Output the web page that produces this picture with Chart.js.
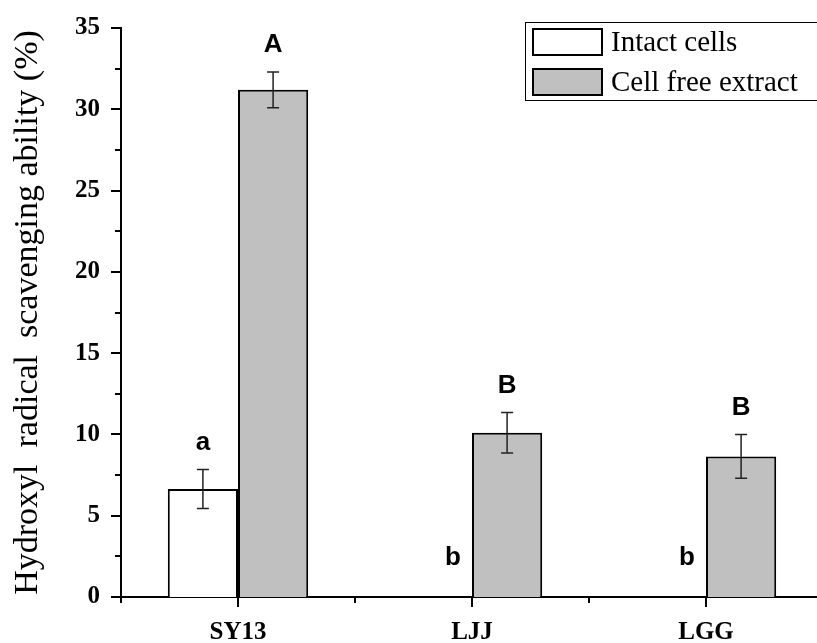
<!DOCTYPE html>
<html>
<head>
<meta charset="utf-8">
<script src="https://cdn.jsdelivr.net/npm/chart.js@4.4.0/dist/chart.umd.min.js"></script>
<style>
  html, body { margin: 0; padding: 0; background: #fff; overflow: hidden; }
  #wrap { width: 824px; height: 643px; }
</style>
</head>
<body>
<div id="wrap"><canvas id="myChart" width="824" height="643"></canvas></div>
<script>
// data
var strains = ['SY13', 'LJJ', 'LGG']
var intactCells = [6.65, 0, 0]
var intactErr = [1.2, 0, 0]
var intactLetters = ['a', 'b', 'b']
var cellFree = [31.2, 10.1, 8.65]
var cellFreeErr = [1.1, 1.25, 1.35]
var cellFreeLetters = ['A', 'B', 'B']
var yTicks = [0, 5, 10, 15, 20, 25, 30, 35]

const ctx = document.getElementById('myChart');
const serif = '"Liberation Serif", "Times New Roman", serif'

// error bars + letters on top of each bar
var errorBars = {
  id: 'errorBars',
  afterDatasetsDraw(chart) {
    let c = chart.ctx
    let y = chart.scales.y
    chart.data.datasets.forEach((ds, di) => {
      let meta = chart.getDatasetMeta(di)
      meta.data.forEach((bar, i) => {
        let v = ds.data[i], e = ds.errors[i]
        c.save()
        if (e > 0) {
          let top = y.getPixelForValue(v + e), bot = y.getPixelForValue(v - e)
          c.strokeStyle = '#222'
          c.lineWidth = 1.5
          c.beginPath()
          c.moveTo(bar.x, top); c.lineTo(bar.x, bot)
          c.moveTo(bar.x - 6, top); c.lineTo(bar.x + 6, top)
          c.moveTo(bar.x - 6, bot); c.lineTo(bar.x + 6, bot)
          c.stroke()
        }
        let ly = Math.min(y.getPixelForValue(v + e) - 27, y.getPixelForValue(0) - 39)
        let lx = v > 0 ? bar.x : bar.x + 16
        c.fillStyle = '#000'
        c.font = 'bold 26px "Liberation Sans", Arial, sans-serif'
        c.textAlign = 'center'
        c.textBaseline = 'middle'
        c.fillText(ds.letters[i], lx, ly)
        c.restore()
      })
    })
  }
}

// tick marks (major + minor), outward
var tickMarks = {
  id: 'tickMarks',
  afterDraw(chart) {
    let c = chart.ctx
    let x = chart.scales.x, y = chart.scales.y
    let a = chart.chartArea
    c.save()
    c.strokeStyle = '#000'
    c.lineWidth = 2
    c.beginPath()
    yTicks.forEach(t => {
      let p = Math.round(y.getPixelForValue(t))
      c.moveTo(a.left, p); c.lineTo(a.left - 10, p)
      if (t < 35) {
        let m = Math.round(y.getPixelForValue(t + 2.5))
        c.moveTo(a.left, m); c.lineTo(a.left - 6, m)
      }
    })
    let step = x.getPixelForValue(1) - x.getPixelForValue(0)
    strains.forEach((s, i) => {
      let p = Math.round(x.getPixelForValue(i))
      c.moveTo(p, a.bottom); c.lineTo(p, a.bottom + 10)
      let m = Math.round(p - step / 2)
      c.moveTo(m, a.bottom); c.lineTo(m, a.bottom + 6)
    })
    c.stroke()
    c.restore()
  }
}

// boxed legend in the top right corner
var boxLegend = {
  id: 'boxLegend',
  afterDraw(chart) {
    let c = chart.ctx
    c.save()
    c.strokeStyle = '#000'
    c.lineWidth = 1
    c.strokeRect(525.5, 22.5, 320, 78)
    c.font = '29px ' + serif
    c.textBaseline = 'middle'
    chart.data.datasets.forEach((ds, i) => {
      let yy = 29 + i * 40
      c.fillStyle = ds.backgroundColor
      c.fillRect(533, yy, 69, 26)
      c.lineWidth = 2
      c.strokeRect(533, yy, 69, 26)
      c.fillStyle = '#000'
      c.fillText(ds.label, 611, yy + 14)
    })
    c.restore()
  }
}

var chart = new Chart(ctx, {
  type: 'bar',
  data: {
    labels: strains,
    datasets: [{
      label: 'Intact cells',
      data: intactCells,
      errors: intactErr,
      letters: intactLetters,
      backgroundColor: '#ffffff',
      borderColor: '#000',
      borderWidth: 2
    }, {
      label: 'Cell free extract',
      data: cellFree,
      errors: cellFreeErr,
      letters: cellFreeLetters,
      backgroundColor: '#c0c0c0',
      borderColor: '#000',
      borderWidth: 2
    }]
  },
  options: {
    responsive: false,
    animation: false,
    layout: { padding: { top: 19, right: 1, left: 0, bottom: 0 } },
    plugins: {
      legend: { display: false },
      tooltip: { enabled: false }
    },
    datasets: { bar: { categoryPercentage: 0.6, barPercentage: 1.0 } },
    scales: {
      x: {
        grid: { display: false },
        border: { color: '#000', width: 2 },
        ticks: { color: '#000', padding: 13, font: { family: serif, size: 25, weight: 'bold' } },
        afterFit: (s) => { s.height = 46 }
      },
      y: {
        min: 0, max: 35,
        grid: { display: false },
        border: { color: '#000', width: 2 },
        afterBuildTicks: (s) => { s.ticks = yTicks.map(v => ({ value: v })) },
        ticks: { color: '#000', padding: 13, font: { family: serif, size: 25, weight: 'bold' } },
        title: {
          display: true,
          text: 'Hydroxyl  radical  scavenging ability (%)',
          color: '#000',
          padding: { top: 8, bottom: 0 },
          font: { family: serif, size: 34 }
        },
        afterFit: (s) => { s.width = 121 }
      }
    }
  },
  plugins: [errorBars, tickMarks, boxLegend]
})
</script>
</body>
</html>
